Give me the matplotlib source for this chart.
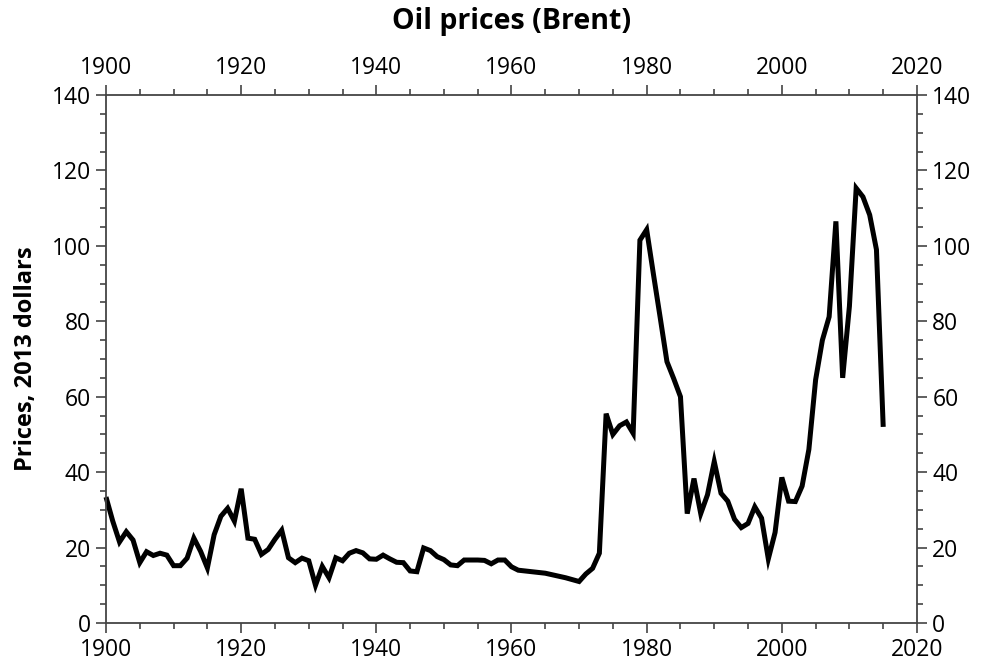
import matplotlib
matplotlib.use("Agg")
import matplotlib.pyplot as plt
from matplotlib.ticker import MultipleLocator

years = list(range(1900, 2016))
prices = [
    33.4, 27.0, 21.5, 24.2, 22.0, 16.0, 18.9, 17.9, 18.5, 18.0,   # 1900-1909
    15.2, 15.2, 17.2, 22.5, 19.0, 14.6, 23.4, 28.3, 30.4, 27.0,   # 1910-1919
    35.6, 22.5, 22.2, 18.2, 19.5, 22.2, 24.6, 17.3, 16.0, 17.2,   # 1920-1929
    16.5, 10.0, 15.0, 12.0, 17.3, 16.5, 18.5, 19.2, 18.6, 17.0,   # 1930-1939
    16.9, 18.0, 17.0, 16.1, 16.0, 13.8, 13.6, 19.9, 19.2, 17.6,   # 1940-1949
    16.8, 15.4, 15.2, 16.7, 16.7, 16.7, 16.6, 15.7, 16.7, 16.7,   # 1950-1959
    14.9, 14.0, 13.8, 13.6, 13.4, 13.2, 12.8, 12.4, 12.0, 11.5,   # 1960-1969
    11.0, 13.0, 14.5, 18.5, 55.5, 50.0, 52.3, 53.3, 50.3, 101.5,  # 1970-1979
    104.3, 92.5, 81.0, 69.3, 64.8, 60.0, 29.0, 38.3, 29.0, 34.0,  # 1980-1989
    42.8, 34.4, 32.3, 27.5, 25.3, 26.4, 30.8, 27.8, 17.0, 24.0,   # 1990-1999
    38.6, 32.3, 32.2, 36.3, 46.0, 64.5, 75.0, 81.2, 106.5, 65.0,  # 2000-2009
    84.0, 115.3, 113.0, 108.2, 99.0, 52.0,                        # 2010-2015
]

plt.rcParams['font.family'] = ['Open Sans', 'DejaVu Sans']

fig = plt.figure(figsize=(9.89, 6.69), dpi=100)
ax = fig.add_axes([106/989, 1-623/669, (917-106)/989, (623-95)/669])

ax.plot(years, prices, color='black', lw=3.6, solid_joinstyle='miter',
        solid_capstyle='butt', clip_on=False)

ax.set_xlim(1900, 2020)
ax.set_ylim(0, 140)
ax.xaxis.set_major_locator(MultipleLocator(20))
ax.xaxis.set_minor_locator(MultipleLocator(5))
ax.yaxis.set_major_locator(MultipleLocator(20))
ax.yaxis.set_minor_locator(MultipleLocator(5))

spine_col = '#444444'
for s in ax.spines.values():
    s.set_color(spine_col)
    s.set_linewidth(1.3)

ax.tick_params(which='both', direction='out', top=True, right=True,
               labeltop=True, labelright=True, color=spine_col, width=1.2,
               labelsize=16.5, labelcolor='black')
ax.tick_params(which='major', length=7.5, pad=3.5)
ax.tick_params(which='minor', length=4)

ax.set_ylabel('Prices, 2013 dollars', fontsize=17, fontweight='bold', labelpad=10)
fig.text(511.5/989, 1-22/669, 'Oil prices (Brent)', ha='center', va='center',
         fontsize=20.5, fontweight='bold')

fig.savefig('out.png', dpi=100)
